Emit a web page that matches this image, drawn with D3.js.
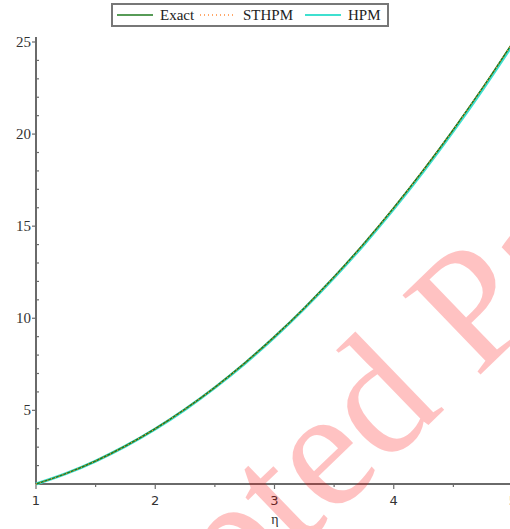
<!DOCTYPE html>
<html>
<head>
<meta charset="utf-8">
<script src="https://cdn.jsdelivr.net/npm/d3@7"></script>
<style>
  body { margin: 0; background: #fff; }
  svg { display: block; }
</style>
</head>
<body>
<div id="chart"></div>
<script>
// eta vs. solution, three methods
const eta    = [1, 1.25, 1.5, 1.75, 2, 2.25, 2.5, 2.75, 3, 3.25, 3.5, 3.75, 4, 4.25, 4.5, 4.75, 5]
const exact  = [1, 1.563, 2.25, 3.063, 4, 5.063, 6.25, 7.563, 9, 10.56, 12.25, 14.06, 16, 18.06, 20.25, 22.56, 25]
const sthpm  = [1, 1.563, 2.25, 3.063, 4, 5.063, 6.25, 7.563, 9, 10.56, 12.25, 14.06, 16, 18.06, 20.25, 22.56, 25]
const hpm    = [1, 1.56, 2.245, 3.055, 3.99, 5.05, 6.235, 7.54, 8.975, 10.53, 12.21, 14.01, 15.94, 17.99, 20.17, 22.47, 24.89]
const xTicks = [1, 2, 3, 4, 5]
const yTicks = [5, 10, 15, 20, 25]
const legendNames = ["Exact", "STHPM", "HPM"]

const width = 510, height = 529

const svg = d3.select("#chart").append("svg")
    .attr("width", width)
    .attr("height", height)

const x = d3.scaleLinear().domain([1, 5]).range([36, 513])
const y = d3.scaleLinear().domain([1, 25]).range([484, 42])

const axisCol = "#6a6a6a"

// axes lines
svg.append("line").attr("x1", x(1)).attr("x2", width).attr("y1", y(1)).attr("y2", y(1))
    .attr("stroke", axisCol).attr("stroke-width", 2)
svg.append("line").attr("x1", x(1)).attr("x2", x(1)).attr("y1", 37).attr("y2", y(1))
    .attr("stroke", axisCol).attr("stroke-width", 2)

// x ticks
const xMinor = d3.range(1.5, 5, 1)
svg.selectAll(".xmaj").data(xTicks).enter().append("line")
    .attr("x1", d => x(d)).attr("x2", d => x(d))
    .attr("y1", y(1)).attr("y2", y(1) + 5)
    .attr("stroke", axisCol).attr("stroke-width", 1.2)
svg.selectAll(".xmin").data(xMinor).enter().append("line")
    .attr("x1", d => x(d)).attr("x2", d => x(d))
    .attr("y1", y(1)).attr("y2", y(1) + 3)
    .attr("stroke", axisCol).attr("stroke-width", 1.2)
svg.selectAll(".xlab").data(xTicks).enter().append("text")
    .attr("x", d => x(d)).attr("y", 505)
    .attr("text-anchor", "middle")
    .attr("font-family", "DejaVu Sans, sans-serif")
    .attr("font-size", 13)
    .attr("fill", "#333")
    .text(d => d)

// y ticks
const yMinor = d3.range(2, 26, 1).filter(d => d % 5 != 0)
svg.selectAll(".ymaj").data(yTicks).enter().append("line")
    .attr("x1", x(1) - 4).attr("x2", x(1))
    .attr("y1", d => y(d)).attr("y2", d => y(d))
    .attr("stroke", axisCol).attr("stroke-width", 1.2)
svg.selectAll(".ymin").data(yMinor).enter().append("line")
    .attr("x1", x(1)).attr("x2", x(1) + 3)
    .attr("y1", d => y(d)).attr("y2", d => y(d))
    .attr("stroke", axisCol).attr("stroke-width", 1.2)
svg.selectAll(".ylab").data(yTicks).enter().append("text")
    .attr("x", 31).attr("y", d => y(d) + 5)
    .attr("text-anchor", "end")
    .attr("font-family", "Liberation Serif, serif")
    .attr("font-size", 15)
    .attr("fill", "#333")
    .text(d => d)

svg.append("text").attr("x", 275).attr("y", 524)
    .attr("text-anchor", "middle")
    .attr("font-family", "Liberation Serif, serif")
    .attr("font-size", 14)
    .attr("fill", "#333")
    .text("η")

// curves
const line = d3.line().x(d => x(d[0])).y(d => y(d[1])).curve(d3.curveMonotoneX)
const series = [
    { vals: hpm, col: "#3fe0d0", w: 3, dash: null },
    { vals: exact, col: "#1f7a1f", w: 1.5, dash: null },
    { vals: sthpm, col: "#ff8c3a", w: 1.3, dash: "1,3" }
]
series.forEach(s => {
    svg.append("path")
        .attr("d", line(eta.map((e, i) => [e, s.vals[i]])))
        .attr("fill", "none")
        .attr("stroke", s.col)
        .attr("stroke-width", s.w)
        .attr("stroke-dasharray", s.dash)
})

// legend
const lg = svg.append("g")
lg.append("rect").attr("x", 112).attr("y", 4).attr("width", 276).attr("height", 22)
    .attr("fill", "#fff").attr("stroke", "#777").attr("stroke-width", 2)
const legCols = ["#1f7a1f", "#ff8c3a", "#3fe0d0"]
const legDash = [null, "1,3", null]
const legX = [117, 200, 305]
legendNames.forEach((n, i) => {
    lg.append("line").attr("x1", legX[i]).attr("x2", legX[i] + 36)
        .attr("y1", 15).attr("y2", 15)
        .attr("stroke", legCols[i]).attr("stroke-width", i == 2 ? 2 : 1.5)
        .attr("stroke-dasharray", legDash[i])
    lg.append("text").attr("x", legX[i] + 43).attr("y", 20)
        .attr("font-family", "Liberation Serif, serif")
        .attr("font-size", 15)
        .attr("fill", "#222")
        .text(n)
})

// watermark
svg.append("text")
    .attr("transform", "translate(-16,854) rotate(-44)")
    .attr("font-family", "Liberation Serif, serif")
    .attr("font-size", 170)
    .attr("fill", "rgba(255,0,0,0.24)")
    .text("Accepted Paper")
</script>
</body>
</html>
